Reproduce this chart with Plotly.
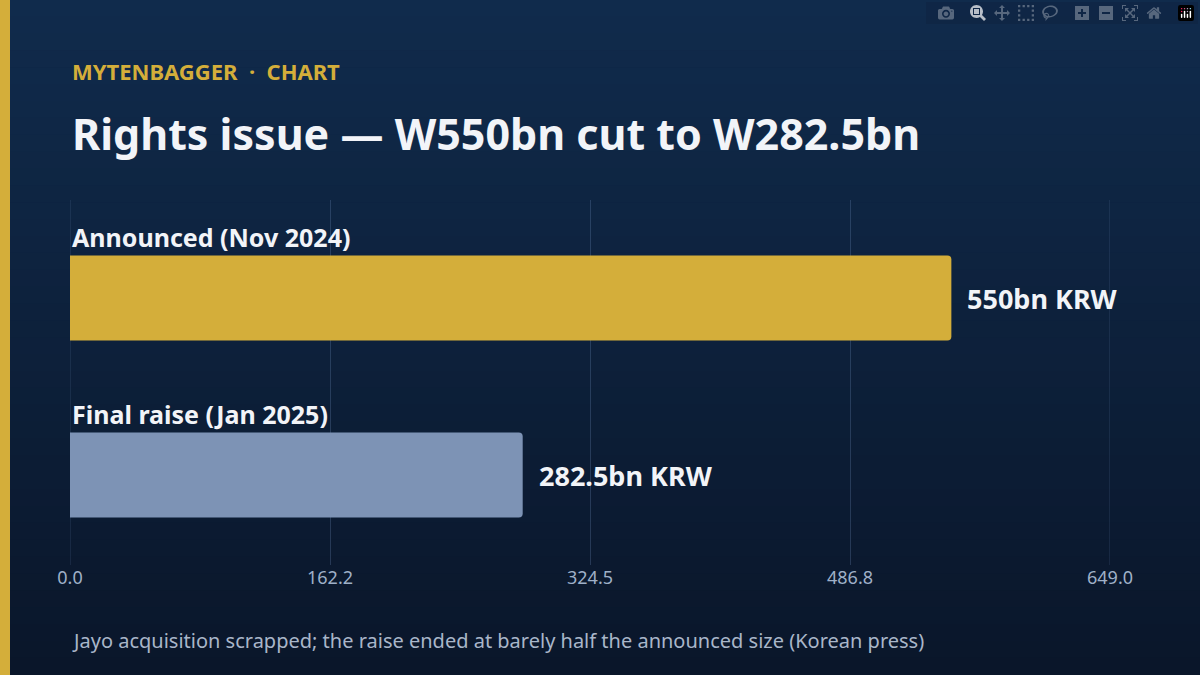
import plotly.graph_objects as go

categories = ["Announced (Nov 2024)", "Final raise (Jan 2025)"]
values = [550, 282.5]
labels = ["550bn KRW", "282.5bn KRW"]
colors = ["#d4ae3a", "#7d93b5"]
tickvals = [0, 162.25, 324.5, 486.75, 649]
ticktext = ["0.0", "162.2", "324.5", "486.8", "649.0"]

FONT = "Noto Sans"
fig = go.Figure(go.Bar(
    x=values, y=[0, 1], orientation="h", width=0.48,
    marker=dict(color=colors, cornerradius=4, line=dict(width=0)),
    hoverinfo="skip",
))

shapes = []
n = 40
top, bot = (16, 43, 76), (10, 22, 42)
for i in range(n):
    t = i / (n - 1)
    c = tuple(round(top[k] + (bot[k] - top[k]) * t) for k in range(3))
    shapes.append(dict(type="rect", xref="paper", yref="paper", layer="below",
                       x0=-0.1, x1=1.2, y0=1 + 200/365 - (i+1)*(675/365)/n - 0.001,
                       y1=1 + 200/365 - i*(675/365)/n + 0.001,
                       fillcolor="rgb(%d,%d,%d)" % c, line=dict(width=0)))
shapes.append(dict(type="rect", xref="paper", yref="paper", x0=-70/1040, x1=-60/1040,
                   y0=-110/365, y1=1+200/365, fillcolor="#d4ae3a", line=dict(width=0)))
for xv in (tickvals[0], tickvals[-1]):
    shapes.append(dict(type="line", xref="x", yref="paper", x0=xv, x1=xv, y0=0, y1=1,
                       layer="below", line=dict(color="rgba(120,150,200,0.25)", width=1)))

ann = []
for i, c in enumerate(categories):
    ann.append(dict(x=0, y=i, xref="x", yref="y", text=c, showarrow=False,
                    xanchor="left", yanchor="bottom", yshift=42,
                    font=dict(family=FONT, size=25, color="#f2f4f8", weight="bold")))
    ann.append(dict(x=values[i], y=i, xref="x", yref="y", text=labels[i], showarrow=False,
                    xanchor="left", yanchor="middle", xshift=14,
                    font=dict(family=FONT, size=27, color="#f2f4f8", weight="bold")))
ann += [
    dict(x=0, y=1+129/365, xref="paper", yref="paper", text="MYTENBAGGER  ·  CHART",
         showarrow=False, xanchor="left", yanchor="middle",
         font=dict(family=FONT, size=22, color="#d4ae3a", weight="bold")),
    dict(x=0, y=1+67/365, xref="paper", yref="paper", text="Rights issue — W550bn cut to W282.5bn",
         showarrow=False, xanchor="left", yanchor="middle",
         font=dict(family=FONT, size=43, color="#f2f4f8", weight="bold")),
    dict(x=0, y=-75/365, xref="paper", yref="paper",
         text="Jayo acquisition scrapped; the raise ended at barely half the announced size (Korean press)",
         showarrow=False, xanchor="left", yanchor="middle",
         font=dict(family=FONT, size=20, color="#a9b6c9")),
]

fig.update_layout(
    width=1200, height=675, margin=dict(l=70, r=90, t=200, b=110),
    paper_bgcolor="#0e223f", plot_bgcolor="rgba(0,0,0,0)",
    shapes=shapes, annotations=ann, showlegend=False,
    xaxis=dict(range=[0, 649], tickvals=tickvals, ticktext=ticktext,
               showgrid=True, gridcolor="rgba(120,150,200,0.25)", gridwidth=1,
               zeroline=False, showline=False, ticks="",
               tickfont=dict(family=FONT, size=18, color="#9fb0c8")),
    yaxis=dict(range=[1.508, -0.554], showticklabels=False, showgrid=False,
               zeroline=False, visible=False),
)
fig.write_html("out.html")

with open("out.html", encoding="utf-8") as f:
    html = f.read()
html = html.replace("<head>", "<head><style>html,body{margin:0;padding:0;background:#0a162a;}</style>", 1)
with open("out.html", "w", encoding="utf-8") as f:
    f.write(html)
